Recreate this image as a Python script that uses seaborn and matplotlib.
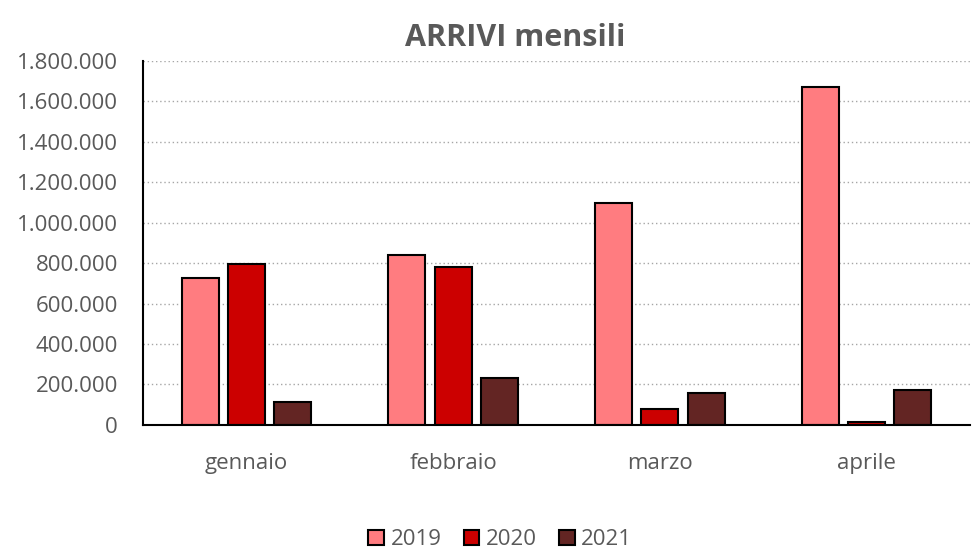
import pandas as pd
import numpy as np
import matplotlib
matplotlib.use('Agg')
import matplotlib.pyplot as plt
import seaborn as sns
from matplotlib.ticker import FuncFormatter

# dati
mesi = ['gennaio', 'febbraio', 'marzo', 'aprile']
anni = ['2019', '2020', '2021']
arrivi_2019 = [725000, 840000, 1097000, 1670000]
arrivi_2020 = [795000, 780000, 77000, 12000]
arrivi_2021 = [115000, 230000, 160000, 175000]
colori = ['#FF7C80', '#CC0000', '#632523']

df = pd.DataFrame({
    'mese': mesi * 3,
    'anno': [a for a in anni for _ in mesi],
    'arrivi': arrivi_2019 + arrivi_2020 + arrivi_2021,
})

sns.set_style('white')
plt.rcParams['font.family'] = ['Open Sans', 'DejaVu Sans']

fig = plt.figure(figsize=(9.72, 5.49), dpi=100)
ax = fig.add_axes([0.147, 0.226, 0.851, 0.663])

sns.barplot(data=df, x='mese', y='arrivi', hue='anno', palette=colori, saturation=1,
            width=0.67, gap=0.2, edgecolor='black', linewidth=1.5, ax=ax)

ax.set_ylim(0, 1800000)
ax.set_xlim(-0.5, 3.447)
ax.set_yticks(np.arange(0, 1800001, 200000))
ax.yaxis.set_major_formatter(FuncFormatter(lambda v, p: f'{int(v):,}'.replace(',', '.')))
ax.grid(axis='y', linestyle=(0, (1, 2)), color='#A6A6A6', linewidth=1)
ax.set_axisbelow(True)

for s in ['top', 'right']:
    ax.spines[s].set_visible(False)
for s in ['left', 'bottom']:
    ax.spines[s].set_color('black')
    ax.spines[s].set_linewidth(1.5)

ax.set_xticks(np.arange(-0.5, 4, 1), minor=True)
ax.tick_params(axis='x', which='minor', length=7, width=1.5, color='black', direction='out')
ax.tick_params(axis='x', which='major', length=0, pad=20, labelsize=16, labelcolor='#595959')
ax.tick_params(axis='y', length=0, pad=18, labelsize=16, labelcolor='#595959')
ax.set_xlabel('')
ax.set_ylabel('')

ax.set_title('ARRIVI mensili', fontsize=22, fontweight='bold', color='#595959', pad=11, x=0.45)

ax.legend(loc='center', bbox_to_anchor=(0.432, -0.316), ncol=3, frameon=False,
          fontsize=16, handlelength=0.7, handleheight=0.7, handletextpad=0.3,
          columnspacing=1.0, labelcolor='#595959')

fig.savefig('out.png', dpi=100)
